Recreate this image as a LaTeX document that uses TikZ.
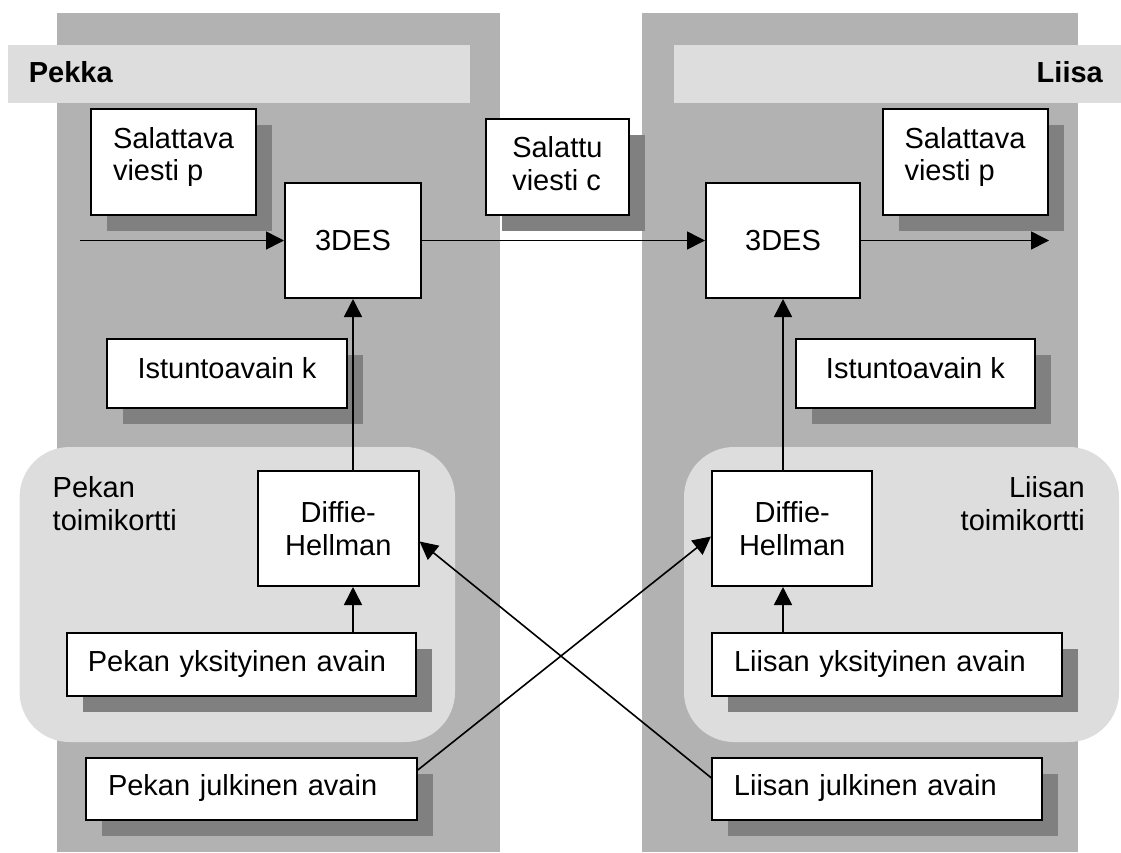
\documentclass[tikz,border=0pt]{standalone}
\usepackage{fontspec}
\setmainfont{Liberation Sans}
\usetikzlibrary{arrows.meta,shadows}
\definecolor{panelgray}{RGB}{178,178,178}
\definecolor{palegray}{RGB}{221,221,221}
\definecolor{shadowgray}{RGB}{128,128,128}

\begin{document}
\begin{tikzpicture}[x=1pt,y=-1pt,
  txt/.style={font=\fontsize{29}{32.7}\selectfont, inner sep=0pt},
  box/.style={txt, rectangle, draw=black, line width=2pt, fill=white},
  shbox/.style={box, drop shadow={shadow xshift=16pt, shadow yshift=-16pt, opacity=1, fill=shadowgray}},
  toptext/.style={text height=21pt, text depth=#1},
  twolines/.style={text height=53.7pt, text depth=#1},
  bar/.style={rectangle, fill=palegray, inner sep=0pt},
  card/.style={rectangle, fill=palegray, rounded corners=50pt, inner sep=0pt},
  flow/.style={line width=1.6pt, -{Triangle[length=18pt,width=18pt]}}
]
\useasboundingbox (0,0) rectangle (1121,852);

% the two parties
\fill[panelgray] (57,13) rectangle (500,852);
\fill[panelgray] (642,13) rectangle (1078,852);
\node[bar, minimum width=462pt, minimum height=58pt] (barL) at (239,74) {};
\node[bar, minimum width=447pt, minimum height=58pt] (barR) at (897.5,74) {};
\node[txt, font=\fontsize{29}{32.7}\selectfont\bfseries, anchor=base west] (pekka) at (28.6,82) {Pekka};
\node[txt, font=\fontsize{29}{32.7}\selectfont\bfseries, anchor=base east] (liisa) at (1103,82) {Liisa};

% smart cards
\node[card, minimum width=435.4pt, minimum height=295pt] (cardL) at (237.3,594.5) {};
\node[card, minimum width=435pt, minimum height=295pt] (cardR) at (901.5,594.5) {};
\node[txt, anchor=base west, align=left] (cardLt) at (52.5,530) {Pekan\\toimikortti};
\node[txt, anchor=base east, align=right] (cardRt) at (1085,530) {Liisan\\toimikortti};

% Pekka
\node[shbox, minimum width=165pt, minimum height=106pt, align=left, twolines=16.3pt] (msgL) at (173.5,162) {Salattava\\viesti p};
\node[box, minimum width=136pt, minimum height=115pt] (desL) at (353,240.5) {3DES};
\node[shbox, minimum width=240pt, minimum height=69pt, toptext=12pt] (keyL) at (227,373.5) {Istuntoavain k};
\node[box, minimum width=160.6pt, minimum height=115pt, align=center] (dhL) at (338.3,528.5) {Diffie-\\Hellman};
\node[shbox, minimum width=349.6pt, minimum height=63pt, text width=307.6pt, align=left, toptext=6.6pt] (privL) at (241.6,664.5) {Pekan yksityinen avain};
\node[shbox, minimum width=330.4pt, minimum height=62pt, text width=287.2pt, align=left, toptext=9pt] (pubL) at (251.6,789) {Pekan julkinen avain};

% channel
\node[shbox, minimum width=143.3pt, minimum height=96pt, align=left, twolines=7.7pt] (ctext) at (557.4,167) {Salattu\\viesti c};

% Liisa
\node[shbox, minimum width=165pt, minimum height=106pt, align=left, twolines=16.3pt] (msgR) at (965,162) {Salattava\\viesti p};
\node[box, minimum width=154pt, minimum height=115pt] (desR) at (783,240.5) {3DES};
\node[shbox, minimum width=239.3pt, minimum height=69pt, toptext=12pt] (keyR) at (915.4,373.5) {Istuntoavain k};
\node[box, minimum width=160.5pt, minimum height=115pt, align=center] (dhR) at (792.2,528.5) {Diffie-\\Hellman};
\node[shbox, minimum width=350pt, minimum height=63pt, text width=306pt, align=left, toptext=6.6pt] (privR) at (887,664.5) {Liisan yksityinen avain};
\node[shbox, minimum width=329.5pt, minimum height=62pt, text width=286.5pt, align=left, toptext=9pt] (pubR) at (877.2,789) {Liisan julkinen avain};

% data flow
\coordinate (inL) at (80,240.5);
\coordinate (outR) at (1049,240.5);
\draw[flow] (inL) -- (inL -| desL.west);
\draw[flow] (desL.east) -- (desR.west);
\draw[flow] (desR.east) -- (outR);

\draw[flow] (dhL.north -| desL.south) -- (desL.south);
\draw[flow] (privL.north -| desL.south) -- (dhL.south -| desL.south);
\draw[flow] (dhR.north -| desR.south) -- (desR.south);
\draw[flow] (privR.north -| desR.south) -- (dhR.south -| desR.south);

\draw[flow] ([yshift=19pt]pubL.east) -- ([yshift=-8pt]dhR.west);
\draw[flow] ([yshift=11pt]pubR.west) -- ([yshift=-13pt]dhL.east);
\end{tikzpicture}
\end{document}
